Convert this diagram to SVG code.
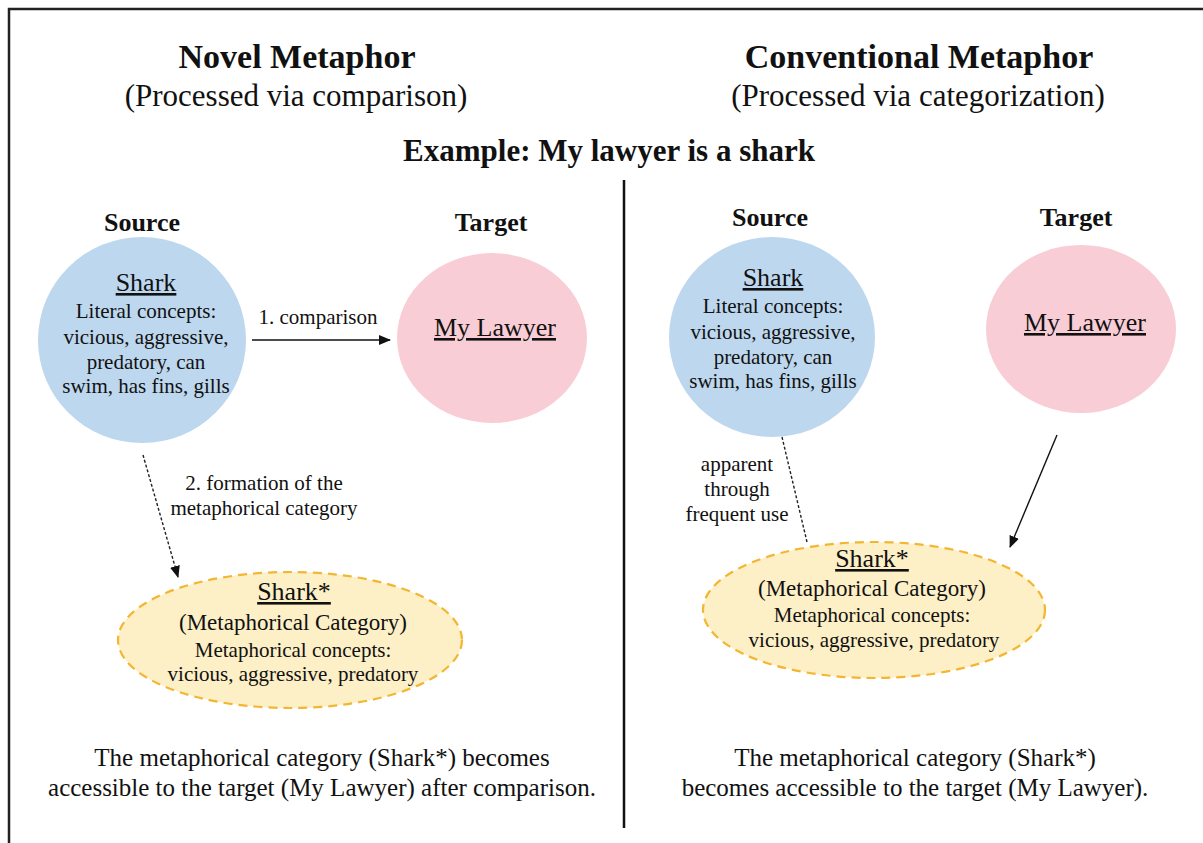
<svg xmlns="http://www.w3.org/2000/svg" width="1203" height="843" viewBox="0 0 1203 843">
  <defs>
    <style>
      text { font-family: "Liberation Serif", "Times New Roman", serif; fill: #111; text-anchor: middle; }
      .title { font-size: 34px; font-weight: bold; }
      .sub { font-size: 31px; }
      .example { font-size: 31px; font-weight: bold; }
      .role { font-size: 26px; font-weight: bold; }
      .name { font-size: 26px; text-decoration: underline; }
      .body { font-size: 21px; }
      .cat { font-size: 23px; }
      .edge { font-size: 21px; }
      .note { font-size: 25px; }
      .source { fill: #bdd7ee; }
      .target { fill: #f9cdd6; }
      .meta { fill: #fdefc6; stroke: #f3b631; stroke-width: 2.2; stroke-dasharray: 9 6; }
      .solid { stroke: #111; stroke-width: 1.4; fill: none; }
      .dotted { stroke: #222; stroke-width: 1.4; fill: none; stroke-dasharray: 3 2; }
    </style>
    <marker id="arrow" viewBox="0 0 12 10" refX="11" refY="5" markerWidth="12" markerHeight="10" markerUnits="userSpaceOnUse" orient="auto">
      <path d="M0,0 L12,5 L0,10 Z" fill="#111"/>
    </marker>
  </defs>

  <rect width="1203" height="843" fill="#ffffff"/>
  <!-- frame -->
  <rect x="9" y="9" width="1210" height="850" fill="none" stroke="#222" stroke-width="2.5"/>

  <!-- headings -->
  <g id="headings">
    <text class="title" x="297" y="68">Novel Metaphor</text>
    <text class="sub" x="296" y="106">(Processed via comparison)</text>
    <text class="title" x="919" y="68">Conventional Metaphor</text>
    <text class="sub" x="918" y="106">(Processed via categorization)</text>
    <text class="example" x="609" y="161">Example: My lawyer is a shark</text>
    <line x1="624" y1="180" x2="624" y2="828" stroke="#111" stroke-width="2.5"/>
  </g>

  <!-- novel metaphor: comparison -->
  <g id="novel-labels">
    <text class="role" x="142" y="231">Source</text>
    <text class="role" x="491" y="231">Target</text>
  </g>

  <g id="novel-source">
    <ellipse class="source" cx="142" cy="340" rx="104" ry="103"/>
    <text class="name" x="146" y="291">Shark</text>
    <text class="body" x="146" y="318">Literal concepts:</text>
    <text class="body" x="146" y="344">vicious, aggressive,</text>
    <text class="body" x="146" y="369">predatory, can</text>
    <text class="body" x="146" y="393">swim, has fins, gills</text>
  </g>

  <g id="novel-target">
    <ellipse class="target" cx="492" cy="338" rx="95" ry="85"/>
    <text class="name" x="495" y="336">My Lawyer</text>
  </g>

  <g id="novel-category">
    <ellipse class="meta" cx="290" cy="640" rx="172" ry="68"/>
    <text class="name" x="294" y="600">Shark*</text>
    <text class="cat" x="293" y="630">(Metaphorical Category)</text>
    <text class="body" x="293" y="657">Metaphorical concepts:</text>
    <text class="body" x="293" y="681">vicious, aggressive, predatory</text>
  </g>

  <g id="novel-note">
    <text class="note" x="322" y="766">The metaphorical category (Shark*) becomes</text>
    <text class="note" x="322" y="796">accessible to the target (My Lawyer) after comparison.</text>
  </g>

  <!-- conventional metaphor: categorization -->
  <g id="conventional-labels">
    <text class="role" x="770" y="226">Source</text>
    <text class="role" x="1076" y="226">Target</text>
  </g>

  <g id="conventional-source">
    <ellipse class="source" cx="772" cy="337" rx="103" ry="100"/>
    <text class="name" x="773" y="286">Shark</text>
    <text class="body" x="773" y="313">Literal concepts:</text>
    <text class="body" x="773" y="339">vicious, aggressive,</text>
    <text class="body" x="773" y="364">predatory, can</text>
    <text class="body" x="773" y="388">swim, has fins, gills</text>
  </g>

  <g id="conventional-target">
    <ellipse class="target" cx="1081" cy="329" rx="95" ry="84"/>
    <text class="name" x="1085" y="331">My Lawyer</text>
  </g>

  <g id="conventional-category">
    <ellipse class="meta" cx="874" cy="610" rx="171" ry="68"/>
    <text class="name" x="872" y="567">Shark*</text>
    <text class="cat" x="872" y="596">(Metaphorical Category)</text>
    <text class="body" x="872" y="622">Metaphorical concepts:</text>
    <text class="body" x="874" y="647">vicious, aggressive, predatory</text>
  </g>

  <g id="conventional-note">
    <text class="note" x="915" y="766">The metaphorical category (Shark*)</text>
    <text class="note" x="915" y="796">becomes accessible to the target (My Lawyer).</text>
  </g>

  <!-- connectors -->
  <g id="connectors">
    <line class="solid" x1="252" y1="340" x2="390" y2="340" marker-end="url(#arrow)"/>
    <text class="edge" x="318" y="324">1. comparison</text>

    <line class="dotted" x1="143" y1="455" x2="178" y2="577" marker-end="url(#arrow)"/>
    <text class="edge" x="264" y="490">2. formation of the</text>
    <text class="edge" x="264" y="515">metaphorical category</text>

    <line class="dotted" x1="782" y1="437" x2="807" y2="542"/>
    <text class="edge" x="737" y="471">apparent</text>
    <text class="edge" x="737" y="496">through</text>
    <text class="edge" x="737" y="521">frequent use</text>

    <line class="solid" x1="1057" y1="435" x2="1010" y2="547" marker-end="url(#arrow)"/>
  </g>
</svg>
